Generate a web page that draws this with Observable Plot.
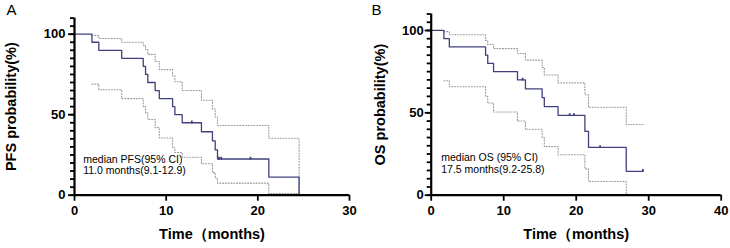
<!DOCTYPE html>
<html><head><meta charset="utf-8">
<script src="https://cdn.jsdelivr.net/npm/d3@7"></script>
<script src="https://cdn.jsdelivr.net/npm/@observablehq/plot@0.6"></script>
<style>
body{margin:0;background:#fff;}
#wrap{position:relative;width:730px;height:248px;overflow:hidden;background:#fff;}
#wrap svg{position:absolute;top:0;}
</style></head><body><div id="wrap"></div>
<script>
// ---- Panel A: PFS ----
const pfsTime = [0, 1.9, 2.65, 5.15, 7.5, 7.75, 8.0, 8.8, 9.25, 10.7, 10.95, 11.75, 13.85, 15.05, 15.35, 15.6, 21.2, 24.5];
const pfsSurv = [100, 95, 90, 85, 80, 75, 70, 65, 60, 55, 50, 45, 39.4, 33.8, 28.1, 22.5, 11.25, 0];
const pfsCiTime = [1.9, 2.65, 5.15, 7.5, 7.75, 8.0, 8.8, 9.25, 10.7, 10.95, 11.75, 13.85, 15.05, 15.35, 15.6, 21.2, 24.5];
const pfsUpper = [99.3, 97.3, 95, 93, 90.5, 87.5, 83, 78, 74, 70.5, 65, 59, 53.5, 48.5, 43.3, 35.4, 0];
const pfsLower = [69, 65.5, 60, 55, 51, 47, 42, 35.5, 29.5, 26.5, 23.6, 19.5, 14, 10.5, 7.5, 1, 1];
const pfsCensTime = [12.8, 15.75, 16.0, 19.2];
const pfsCensSurv = [45, 22.5, 22.5, 22.5];

// ---- Panel B: OS ----
const osTime = [0, 1.75, 2.5, 7.5, 7.8, 8.6, 11.9, 13.0, 15.3, 15.6, 17.5, 21.2, 21.7, 26.9, 29.2];
const osSurv = [100, 95, 90, 85, 80, 75, 70, 64.6, 59.2, 53.8, 48.4, 38.7, 29, 14.5, 14.5];
const osCiTime = [1.75, 2.5, 7.5, 7.8, 8.6, 11.9, 13.0, 15.3, 15.6, 17.5, 21.2, 21.7, 26.9, 29.2];
const osUpper = [99.3, 97.4, 94, 91.5, 89, 86, 82, 77.5, 73, 68.2, 61, 53.4, 42.9, 42.9];
const osLower = [69.5, 65.8, 60, 56, 50.5, 45, 40, 35, 29.5, 24.6, 16, 8.3, 0.3, 0.3];
const osCensTime = [12.6, 19.1, 19.7, 23.3, 29.2];
const osCensSurv = [70, 48.4, 48.4, 29, 14.5];

// ---- Axis ticks and labels ----
const yMajor = [0, 50, 100];
const yMinor = d3.range(0, 111, 5);
const xTicksA = [0, 10, 20, 30];
const xTicksB = [0, 10, 20, 30, 40];
const xTitle = "Time\uFF08months)";

const FONT = "'Liberation Sans', Arial, Helvetica, sans-serif";
const KM = "#40407e";
const CI = "#9a9a9a";
const censorSymbol = {draw(ctx, size) { const r = Math.sqrt(size / Math.PI); ctx.moveTo(0, 0.6); ctx.lineTo(0, -r); }};

function toRows(ts, vs) { return ts.map((t, i) => ({t, s: vs[i]})); }

function panel(o) {
  return Plot.plot({
    width: 365, height: 248,
    marginLeft: o.ml, marginRight: o.mr, marginTop: o.mt, marginBottom: o.mb,
    style: {fontFamily: FONT, background: "transparent", overflow: "visible", color: "black"},
    x: {domain: [0, o.xmax], axis: null},
    y: {domain: [0, 110], axis: null},
    marks: [
      Plot.line(toRows(o.ciTime, o.upper), {x: "t", y: "s", curve: "step-after", stroke: CI, strokeWidth: 1.1, strokeDasharray: "1,1.8"}),
      Plot.line(toRows(o.ciTime, o.lower), {x: "t", y: "s", curve: "step-after", stroke: CI, strokeWidth: 1.1, strokeDasharray: "1,1.8"}),
      Plot.line(toRows(o.time, o.surv), {x: "t", y: "s", curve: "step-after", stroke: KM, strokeWidth: 1.3}),
      Plot.dot(toRows(o.censTime, o.censSurv), {x: "t", y: "s", symbol: censorSymbol, r: 2.2, stroke: KM, strokeWidth: 1.8, fill: "none"}),
      Plot.axisY(yMinor, {tickSize: 4, strokeWidth: 1.8, tickFormat: () => "", label: null}),
      Plot.axisY(yMajor, {tickSize: 6, tickPadding: o.ytp, strokeWidth: 1.8, fontSize: 13, fontWeight: "bold", label: null}),
      Plot.axisX(o.xTicks, {tickSize: 6, tickPadding: 5, strokeWidth: 1.8, fontSize: 13, fontWeight: "bold", label: null}),
      Plot.ruleX([0], {stroke: "black", strokeWidth: 2.2}),
      Plot.ruleY([0], {stroke: "black", strokeWidth: 2.2}),
      Plot.text([o.ylabel], {text: d => d, frameAnchor: "left", dx: o.ylx, rotate: -90, textAnchor: "middle", lineAnchor: "middle", fontSize: 14.5, fontWeight: "bold", fill: "black"}),
      Plot.text([xTitle], {text: d => d, frameAnchor: "bottom", dy: 39, textAnchor: "middle", lineAnchor: "middle", fontSize: 14.5, fontWeight: "bold", fill: "black"}),
      Plot.text([o.letter], {text: d => d, frameAnchor: "top-left", dx: o.ldx, dy: o.ldy, lineAnchor: "middle", textAnchor: "middle", fontSize: 15, fill: "black"}),
      Plot.text([o.note], {text: d => d, frameAnchor: "bottom-left", dx: o.ndx, dy: o.ndy, textAnchor: "start", lineAnchor: "middle", fontSize: 10.5, lineHeight: 1.1, fill: "black"})
    ]
  });
}

const A = panel({
  ml: 74, mr: 16, mt: 17.6, mb: 53.3, xmax: 30, xTicks: xTicksA, ytp: 3,
  time: pfsTime, surv: pfsSurv, ciTime: pfsCiTime, upper: pfsUpper, lower: pfsLower,
  censTime: pfsCensTime, censSurv: pfsCensSurv,
  ylabel: "PFS probability(%)", ylx: -63.5, letter: "A", ldx: -63, ldy: -7.6,
  note: "median PFS(95% CI)\n11.0 months(9.1-12.9)", ndx: 8.7, ndy: -30.5
});
const B = panel({
  ml: 65.7, mr: 9.3, mt: 13.5, mb: 53.3, xmax: 40, xTicks: xTicksB, ytp: 1.5,
  time: osTime, surv: osSurv, ciTime: osCiTime, upper: osUpper, lower: osLower,
  censTime: osCensTime, censSurv: osCensSurv,
  ylabel: "OS probability(%)", ylx: -50.7, letter: "B", ldx: -54.7, ldy: -3.5,
  note: "median OS (95% CI)\n17.5 months(9.2-25.8)", ndx: 10, ndy: -32
});
A.style.left = "0px";
B.style.left = "365px";
const wrap = document.getElementById("wrap");
wrap.appendChild(A);
wrap.appendChild(B);
</script>
</body></html>
